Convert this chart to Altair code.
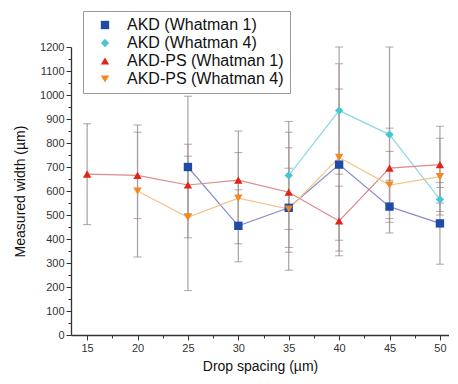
import altair as alt
import pandas as pd

x_vals = [15, 20, 25, 30, 35, 40, 45, 50]
series_names = ["AKD (Whatman 1)", "AKD (Whatman 4)", "AKD-PS (Whatman 1)", "AKD-PS (Whatman 4)"]

akd_w1 = [None, None, 700, 455, 530, 710, 535, 465]
akd_w1_err = [None, None, 295, 150, 165, 315, 110, 170]
akd_w4 = [None, None, None, None, 665, 935, 835, 565]
akd_w4_err = [None, None, None, None, 225, 265, 365, 50]
akdps_w1 = [670, 665, 625, 645, 595, 475, 695, 710]
akdps_w1_err = [210, 180, 120, 205, 250, 145, 167, 160]
akdps_w4 = [None, 600, 490, 570, 525, 740, 625, 660]
akdps_w4_err = [None, 275, 305, 190, 255, 390, 140, 160]

marker_colors = ["#1f4aa8", "#46c6d2", "#e2231a", "#f5871f"]
line_colors = ["#8a8ccc", "#8fd8e0", "#dd8a8a", "#f2c48a"]
shapes = ["square", "diamond", "triangle-up", "triangle-down"]

rows = []
for name, vals, errs in zip(series_names,
                            [akd_w1, akd_w4, akdps_w1, akdps_w4],
                            [akd_w1_err, akd_w4_err, akdps_w1_err, akdps_w4_err]):
    for x, v, e in zip(x_vals, vals, errs):
        if v is None:
            continue
        rows.append({"series": name, "x": x, "y": v,
                     "lo": max(0, v - e), "hi": min(1200, v + e)})
df = pd.DataFrame(rows)

FONT = "Liberation Sans"

x_axis = alt.Axis(title="Drop spacing (µm)",
                  values=[15, 17.5, 20, 22.5, 25, 27.5, 30, 32.5, 35, 37.5, 40, 42.5, 45, 47.5, 50],
                  labelExpr="datum.value % 5 === 0 ? datum.label : ''",
                  labelOverlap=False, format="d",
                  tickSize={"condition": {"test": "datum.value % 5 === 0", "value": 5}, "value": 3},
                  titlePadding=6, grid=False)
y_axis = alt.Axis(title="Measured width (µm)",
                  values=list(range(0, 1201, 50)),
                  labelExpr="datum.value % 100 === 0 ? datum.label : ''",
                  labelOverlap=False, format="d",
                  tickSize={"condition": {"test": "datum.value % 100 === 0", "value": 5}, "value": 3},
                  titlePadding=12, grid=False)
x_scale = alt.Scale(domain=[13.4, 50.9], nice=False, zero=False)
y_scale = alt.Scale(domain=[0, 1200], nice=False)


def X(field):
    return alt.X(field, scale=x_scale, axis=x_axis)


def Y(field):
    return alt.Y(field, scale=y_scale, axis=y_axis)


legend = alt.Legend(title=None, orient="none", legendX=12, legendY=-36,
                    labelFontSize=16, labelFont=FONT, labelColor="#111",
                    symbolSize=70, rowPadding=2, padding=6,
                    strokeColor="#999", fillColor="white",
                    symbolOffset=8, labelOffset=14)

base = alt.Chart(df)

err_rules = base.mark_rule(color="#aaa0a0", strokeWidth=1.2).encode(
    x=X("x:Q"), y=Y("lo:Q"), y2="hi:Q")
cap_lo = base.mark_tick(orient="horizontal", size=8, thickness=1, color="#8a8282").encode(
    x=X("x:Q"), y=Y("lo:Q"))
cap_hi = base.mark_tick(orient="horizontal", size=8, thickness=1, color="#8a8282").encode(
    x=X("x:Q"), y=Y("hi:Q"))

line_layers = [
    base.transform_filter(alt.datum.series == name).mark_line(strokeWidth=1.2, color=col).encode(
        x=X("x:Q"), y=Y("y:Q"), order="x:Q")
    for name, col in zip(series_names, line_colors)
]

points = base.mark_point(filled=True, size=70, opacity=1, strokeWidth=0).encode(
    x=X("x:Q"), y=Y("y:Q"),
    fill=alt.Fill("series:N", scale=alt.Scale(domain=series_names, range=marker_colors), legend=legend),
    shape=alt.Shape("series:N", scale=alt.Scale(domain=series_names, range=shapes), legend=legend))

chart = alt.layer(err_rules, cap_lo, cap_hi, *line_layers, points).properties(
    width=378, height=288,
    padding={"left": 5, "top": 2, "right": 0, "bottom": 5},
    background="white"
).configure_view(stroke=None).configure_axis(
    labelFont=FONT, titleFont=FONT, labelFontSize=11, titleFontSize=14,
    labelColor="#333", titleColor="#111", titleFontWeight="normal",
    domainColor="#333", tickColor="#333", domainWidth=1.3, labelOverlap=False
).configure_legend(orient="none", legendX=12, legendY=-36)

chart.save("out.html", embed_options={"renderer": "svg", "actions": False})
